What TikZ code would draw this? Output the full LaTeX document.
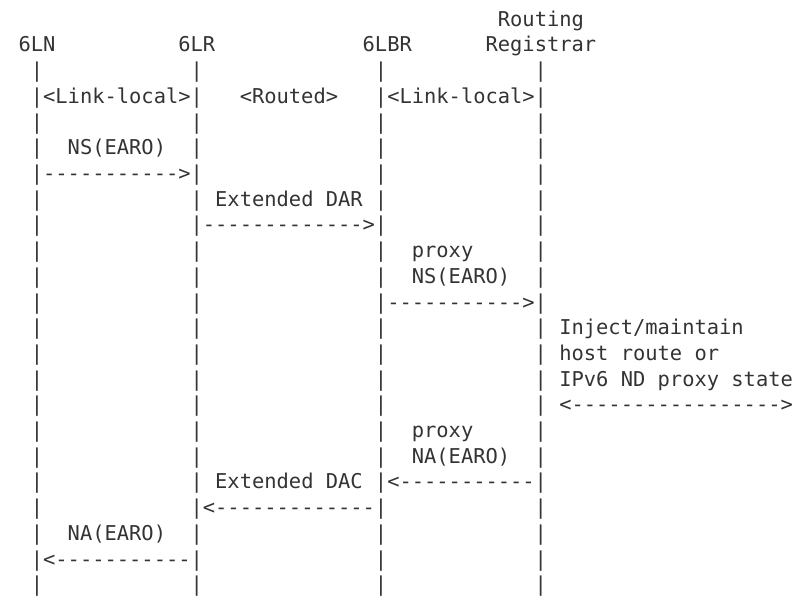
\documentclass[tikz,border=0pt]{standalone}
\usepackage{fontspec}
\setmonofont{DejaVu Sans Mono}
\definecolor{ink}{HTML}{333333}
\tikzset{
  t/.style={anchor=base west, inner sep=0pt, outer sep=0pt, text=ink,
    font=\fontsize{20.42pt}{25.7pt}\selectfont\ttfamily}
}
\newcommand\cellat[4]{\node[t] (#1) at ({18.56pt+#2*12.29pt},{-26.3pt-#3*25.7pt}) {#4};}
\begin{document}
\begin{tikzpicture}
\useasboundingbox (0,0) rectangle (811pt,-596pt);
% headers
\cellat{hRR1}{39}{0}{Routing}
\cellat{h6LN}{0}{1}{6LN}
\cellat{h6LR}{13}{1}{6LR}
\cellat{h6LBR}{28}{1}{6LBR}
\cellat{hRR2}{38}{1}{Registrar}
% lifelines
\foreach \r in {2,...,22}{
  \foreach \c/\n in {1/a,14/b,29/c,42/d}{
    \cellat{bar\n\r}{\c}{\r}{|}
  }
}
% row 3
\cellat{ll1}{2}{3}{<Link-local>}
\cellat{rt}{18}{3}{<Routed>}
\cellat{ll2}{30}{3}{<Link-local>}
% messages
\cellat{nsl}{4}{5}{NS(EARO)}
\cellat{nsa}{2}{6}{----------->}
\cellat{darl}{16}{7}{Extended DAR}
\cellat{dara}{15}{8}{------------->}
\cellat{pnsl1}{32}{9}{proxy}
\cellat{pnsl2}{32}{10}{NS(EARO)}
\cellat{pnsa}{30}{11}{----------->}
\cellat{inj1}{44}{12}{Inject/maintain}
\cellat{inj2}{44}{13}{host route or}
\cellat{inj3}{44}{14}{IPv6 ND proxy state}
\cellat{inja}{44}{15}{<----------------->}
\cellat{pnal1}{32}{16}{proxy}
\cellat{pnal2}{32}{17}{NA(EARO)}
\cellat{dacl}{16}{18}{Extended DAC}
\cellat{pnaa}{30}{18}{<-----------}
\cellat{daca}{15}{19}{<-------------}
\cellat{nal}{4}{20}{NA(EARO)}
\cellat{naa}{2}{21}{<-----------}
\end{tikzpicture}
\end{document}
